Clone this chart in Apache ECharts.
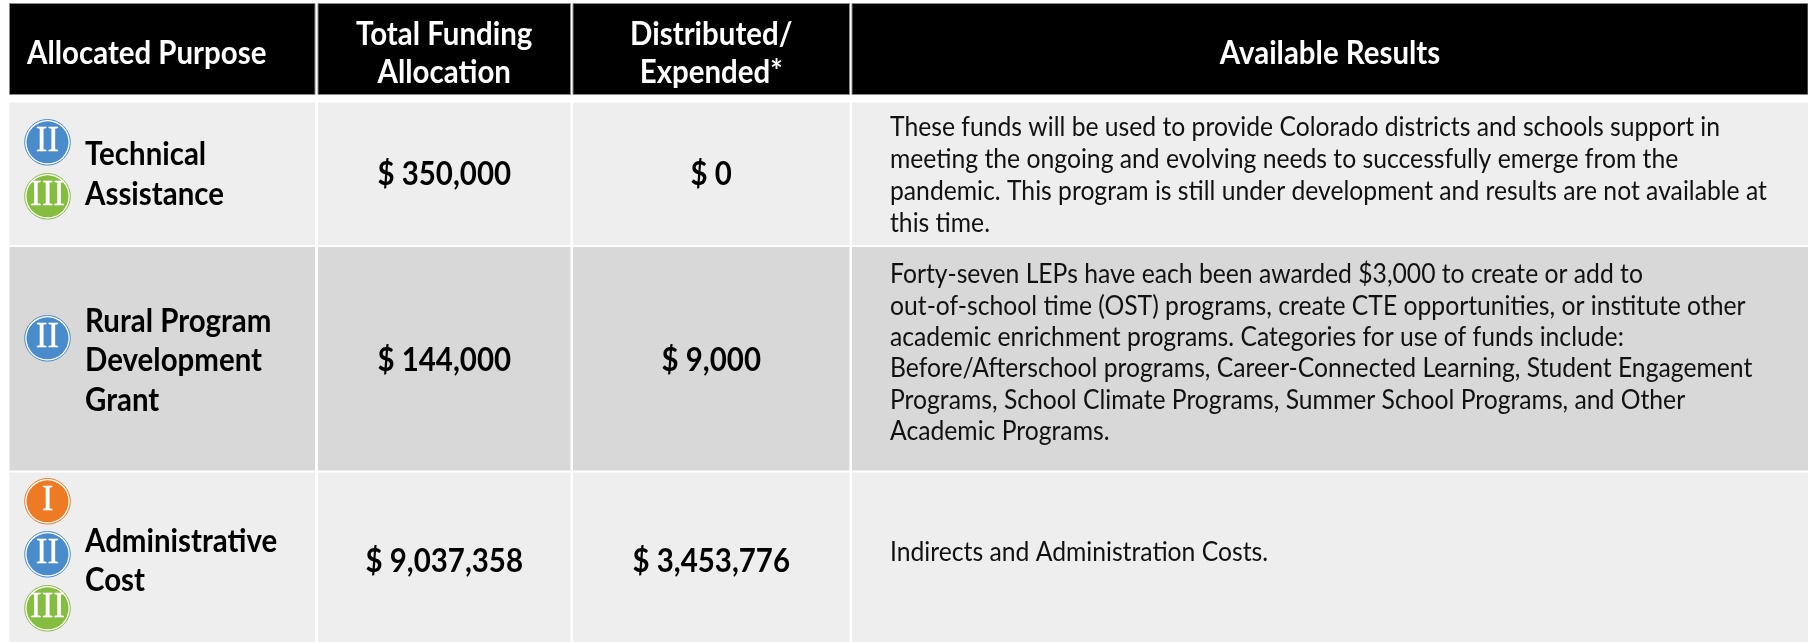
<!DOCTYPE html>
<html>
<head>
<meta charset="utf-8">
<title>Allocated Purpose</title>
<style>
html, body { margin: 0; padding: 0; background: #fff; }
#main { width: 1808px; height: 642px; }
</style>
<script src="https://cdn.jsdelivr.net/npm/echarts@6/dist/echarts.min.js"></script>
</head>
<body>
<div id="main"></div>
<script>
// table content
var headers = [
    ['Allocated Purpose'],
    ['Total Funding', 'Allocation'],
    ['Distributed/', 'Expended*'],
    ['Available Results']
];
var purposes = [
    ['Technical', 'Assistance'],
    ['Rural Program', 'Development', 'Grant'],
    ['Administrative', 'Cost']
];
var totalFunding = ['$ 350,000', '$ 144,000', '$ 9,037,358'];
var distributed = ['$ 0', '$ 9,000', '$ 3,453,776'];
var results = [
    ['These funds will be used to provide Colorado districts and schools support in',
        'meeting the ongoing and evolving needs to successfully emerge from the',
        'pandemic. This program is still under development and results are not available at',
        'this time.'],
    ['Forty-seven LEPs have each been awarded $3,000 to create or add to',
        'out-of-school time (OST) programs, create CTE opportunities, or institute other',
        'academic enrichment programs. Categories for use of funds include:',
        'Before/Afterschool programs, Career-Connected Learning, Student Engagement',
        'Programs, School Climate Programs, Summer School Programs, and Other',
        'Academic Programs.'],
    ['Indirects and Administration Costs.']
];
var badges = [['II', 'III'], ['II'], ['I', 'II', 'III']];

// layout, in page pixels
var colEdges = [[9.5, 315], [318, 570.5], [573, 849.5], [852, 1808]];
var rowEdges = [[3.5, 94.5], [102.5, 245], [247, 470.5], [472.5, 642]];
var rowFill = ['#000000', '#eeeeee', '#d8d8d8', '#eeeeee'];
var headerY = [[53.5], [34.5, 72.5], [34.5, 72.5], [53.5]];
var purposeY = [[155, 194.5], [321.5, 361, 400.5], [541.5, 580.5]];
var amountY = [175, 361, 561.5];
var resultY = [[127.5, 159.5, 191.5, 223.5], [275, 307, 338, 369, 401, 432], [553]];
var badgeY = [[142.3, 196.3], [338.3], [501.3, 554.3, 608.3]];
var badgeColor = { 'I': '#ee7a24', 'II': '#4a8bcb', 'III': '#84bd3f' };

var sans = 'Lato, "Noto Sans", sans-serif';
var headFont = 'bold 32px ' + sans;
var bodyFont = '26px ' + sans;
var headScale = 0.92;
var bodyScale = 0.95;

// flat lists for the series
var cells = [];
var lines = [];
var dots = [];
for (var r = 0; r < rowEdges.length; r++) {
    for (var c = 0; c < colEdges.length; c++) {
        cells.push([c, r]);
    }
}
function addLine(x, y, text, align, font, fill, scale) {
    lines.push({ value: [x, y], text: text, align: align, font: font, fill: fill, scale: scale });
}
function colMid(c) {
    return (colEdges[c][0] + colEdges[c][1]) / 2;
}
for (var h = 0; h < headers.length; h++) {
    for (var i = 0; i < headers[h].length; i++) {
        if (h == 0) {
            addLine(27, headerY[h][i], headers[h][i], 'left', headFont, '#ffffff', headScale);
        } else {
            addLine(colMid(h), headerY[h][i], headers[h][i], 'center', headFont, '#ffffff', headScale);
        }
    }
}
for (var p = 0; p < purposes.length; p++) {
    for (var j = 0; j < purposes[p].length; j++) {
        addLine(85, purposeY[p][j], purposes[p][j], 'left', headFont, '#000000', headScale);
    }
    addLine(colMid(1), amountY[p], totalFunding[p], 'center', headFont, '#000000', headScale);
    addLine(colMid(2), amountY[p], distributed[p], 'center', headFont, '#000000', headScale);
    for (var k = 0; k < results[p].length; k++) {
        addLine(890, resultY[p][k], results[p][k], 'left', bodyFont, '#111111', bodyScale);
    }
    for (var b = 0; b < badges[p].length; b++) {
        dots.push({ value: [47.5, badgeY[p][b]], label: badges[p][b] });
    }
}

var Chart = echarts.init(document.getElementById('main'));
var option = {
    animation: false,
    backgroundColor: '#ffffff',
    grid: { left: 0, right: 0, top: 0, bottom: 0 },
    xAxis: { type: 'value', min: 0, max: 1808, show: false },
    yAxis: { type: 'value', min: 0, max: 642, inverse: true, show: false },
    series: [
        {
            type: 'custom',
            coordinateSystem: 'cartesian2d',
            silent: true,
            data: cells,
            renderItem: function (params, api) {
                var c = api.value(0);
                var r = api.value(1);
                var a = api.coord([colEdges[c][0], rowEdges[r][0]]);
                var b = api.coord([colEdges[c][1], rowEdges[r][1]]);
                return {
                    type: 'rect',
                    shape: { x: a[0], y: a[1], width: b[0] - a[0], height: b[1] - a[1] },
                    style: {
                        fill: rowFill[r],
                        stroke: r == 0 ? '#8a8a8a' : null,
                        lineWidth: 1
                    }
                };
            }
        },
        {
            type: 'custom',
            coordinateSystem: 'cartesian2d',
            silent: true,
            data: dots,
            renderItem: function (params, api) {
                var pos = api.coord([api.value(0), api.value(1)]);
                var label = dots[params.dataIndex].label;
                var color = badgeColor[label];
                return {
                    type: 'group',
                    x: pos[0],
                    y: pos[1],
                    children: [
                        { type: 'circle', shape: { cx: 0, cy: 0, r: 22.8 }, style: { fill: '#ffffff', stroke: color, lineWidth: 1 } },
                        { type: 'circle', shape: { cx: 0, cy: 0, r: 21 }, style: { fill: color } },
                        {
                            type: 'text',
                            style: {
                                text: label,
                                x: 0,
                                y: 0,
                                fill: '#ffffff',
                                stroke: '#ffffff',
                                lineWidth: 0.3,
                                font: '35px "Liberation Serif", serif',
                                textAlign: 'center',
                                textVerticalAlign: 'middle'
                            }
                        }
                    ]
                };
            }
        },
        {
            type: 'custom',
            coordinateSystem: 'cartesian2d',
            silent: true,
            data: lines,
            renderItem: function (params, api) {
                var pos = api.coord([api.value(0), api.value(1)]);
                var line = lines[params.dataIndex];
                return {
                    type: 'text',
                    x: pos[0],
                    y: pos[1],
                    scaleX: line.scale,
                    style: {
                        text: line.text,
                        x: 0,
                        y: 0,
                        fill: line.fill,
                        font: line.font,
                        textAlign: line.align,
                        textVerticalAlign: 'middle'
                    }
                };
            }
        }
    ]
};
Chart.setOption(option);
</script>
</body>
</html>
